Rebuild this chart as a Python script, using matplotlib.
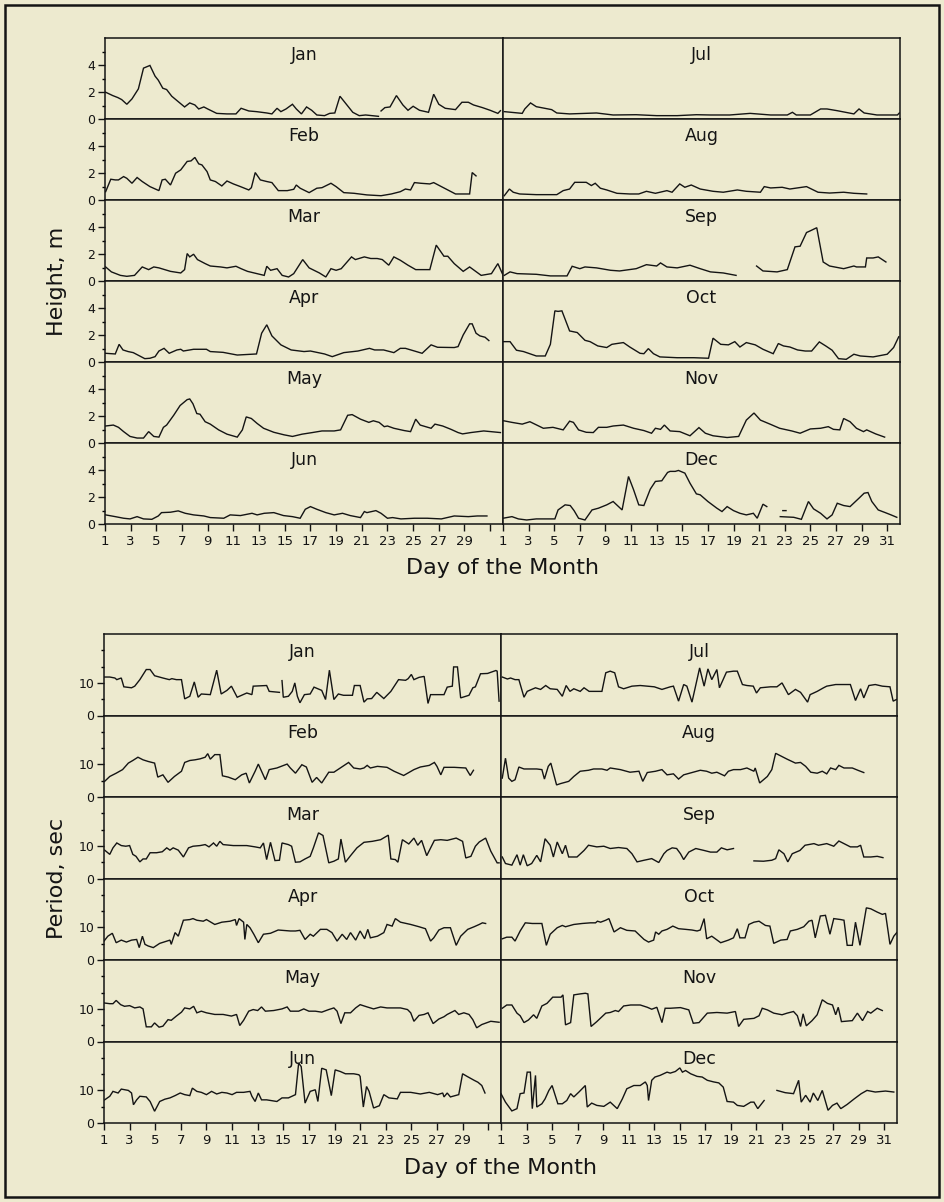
"""
plot.py
-------
Wave height and period, day by day for each month (Jan-Jun left, Jul-Dec right).
Values read off the scanned figure; gaps in the record are marked with None.
"""

import numpy as np
import matplotlib
matplotlib.use("Agg")
import matplotlib.pyplot as plt
from matplotlib.ticker import FixedLocator

W, H = 945, 1202
BG = "#EDEACF"
INK = "#141414"

LEFT_MONTHS = ["Jan", "Feb", "Mar", "Apr", "May", "Jun"]
RIGHT_MONTHS = ["Jul", "Aug", "Sep", "Oct", "Nov", "Dec"]

# ---- wave height, m  (day, value) ----
ht_jan = [(1.05, 2.0), (1.6, 1.75), (2.0, 1.6), (2.3, 1.45), (2.7, 1.1), (3.1, 1.5), (3.6, 2.25),
          (4.0, 3.8), (4.5, 4.0), (4.9, 3.2), (5.15, 2.9), (5.5, 2.3), (5.8, 2.2), (6.2, 1.7),
          (6.7, 1.3), (7.2, 0.9), (7.6, 1.2), (8.0, 1.05), (8.3, 0.75), (8.7, 0.9), (9.0, 0.75),
          (9.7, 0.42), (10.5, 0.38), (11.2, 0.38), (11.6, 0.8), (12.2, 0.6), (12.8, 0.55),
          (13.6, 0.45), (14.0, 0.38), (14.4, 0.8), (14.7, 0.55), (15.1, 0.75), (15.6, 1.1),
          (15.9, 0.75), (16.3, 0.38), (16.7, 0.9), (17.1, 0.65), (17.5, 0.3), (18.1, 0.25),
          (18.5, 0.42), (18.9, 0.45), (19.3, 1.7), (19.8, 1.1), (20.3, 0.5), (20.8, 0.25),
          (21.3, 0.3), (22.3, 0.2), None, (22.5, 0.6), (22.8, 0.85), (23.2, 0.9), (23.7, 1.75),
          (24.2, 1.05), (24.6, 0.65), (25.0, 0.95), (25.5, 0.65), (26.2, 0.5), (26.6, 1.85),
          (27.0, 1.1), (27.5, 0.8), (28.3, 0.7), (28.8, 1.25), (29.3, 1.25), (29.7, 1.05),
          (30.4, 0.85), (31.0, 0.65), (31.6, 0.42), (31.8, 0.62)]
ht_feb = [(1.05, 0.62), (1.45, 1.55), (1.8, 1.5), (2.05, 1.5), (2.45, 1.75), (2.7, 1.62),
          (3.1, 1.25), (3.5, 1.68), (3.9, 1.38), (4.5, 1.0), (5.2, 0.7), (5.45, 1.5), (5.7, 1.55),
          (6.1, 1.12), (6.5, 2.0), (6.9, 2.25), (7.4, 2.88), (7.7, 2.92), (8.0, 3.18), (8.3, 2.7),
          (8.55, 2.62), (8.95, 2.12), (9.2, 1.5), (9.6, 1.38), (10.1, 1.05), (10.5, 1.42),
          (11.0, 1.2), (11.55, 1.0), (12.2, 0.75), (12.4, 0.92), (12.7, 2.05), (13.1, 1.5),
          (13.6, 1.38), (14.0, 1.3), (14.5, 0.7), (15.2, 0.7), (15.7, 0.8), (15.9, 1.12),
          (16.2, 0.88), (16.9, 0.55), (17.5, 0.88), (17.9, 0.92), (18.6, 1.25), (19.0, 1.0),
          (19.6, 0.55), (20.4, 0.5), (21.4, 0.38), (22.5, 0.32), (23.3, 0.45), (24.0, 0.62),
          (24.4, 0.82), (24.8, 0.75), (25.1, 1.3), (25.6, 1.25), (26.3, 1.2), (26.6, 1.3),
          (27.2, 1.0), (27.8, 0.7), (28.3, 0.45), (29.4, 0.45), (29.6, 2.05), (29.9, 1.8)]
ht_mar = [(1.05, 1.05), (1.5, 0.68), (2.2, 0.42), (2.7, 0.35), (3.3, 0.42), (3.9, 1.05),
          (4.4, 0.85), (4.8, 1.05), (5.2, 0.98), (6.1, 0.72), (6.9, 0.6), (7.2, 0.85), (7.4, 2.05),
          (7.6, 1.8), (7.9, 2.0), (8.2, 1.6), (8.8, 1.3), (9.2, 1.12), (10.0, 1.05), (10.5, 0.98),
          (11.2, 1.1), (11.6, 0.92), (12.1, 0.72), (13.4, 0.42), (13.6, 1.1), (13.9, 0.8),
          (14.4, 0.92), (14.8, 0.42), (15.3, 0.3), (15.7, 0.55), (16.4, 1.6), (16.9, 0.98),
          (17.7, 0.6), (18.2, 0.3), (18.6, 0.92), (19.0, 0.8), (19.4, 0.92), (20.2, 1.8),
          (20.5, 1.6), (21.2, 1.8), (21.7, 1.68), (22.2, 1.68), (22.6, 1.6), (23.1, 1.18),
          (23.5, 1.8), (24.0, 1.55), (24.6, 1.18), (25.2, 0.85), (26.3, 0.85), (26.8, 2.68),
          (27.4, 1.85), (27.7, 1.85), (28.2, 1.3), (28.9, 0.72), (29.4, 1.05), (30.3, 0.42),
          (31.1, 0.55), (31.6, 1.3), (31.95, 0.55)]
ht_apr = [(1.05, 0.65), (1.8, 0.6), (2.1, 1.32), (2.4, 0.9), (2.8, 0.78), (3.2, 0.7), (3.7, 0.45),
          (4.1, 0.25), (4.5, 0.28), (4.9, 0.4), (5.2, 0.82), (5.6, 1.02), (6.0, 0.65), (6.6, 0.9),
          (6.9, 0.95), (7.1, 0.82), (7.6, 0.9), (7.9, 0.95), (8.9, 0.95), (9.2, 0.78), (10.2, 0.72),
          (11.3, 0.52), (12.8, 0.6), (13.2, 2.15), (13.6, 2.78), (14.0, 1.95), (14.7, 1.28),
          (15.5, 0.9), (16.5, 0.78), (17.0, 0.82), (18.1, 0.6), (18.7, 0.4), (19.6, 0.7),
          (20.7, 0.82), (21.6, 1.02), (22.0, 0.9), (22.7, 0.9), (23.5, 0.7), (24.0, 1.02),
          (24.4, 1.02), (25.0, 0.85), (25.7, 0.65), (26.4, 1.28), (26.9, 1.1), (28.2, 1.08),
          (28.5, 1.15), (28.9, 2.02), (29.4, 2.85), (29.6, 2.85), (29.9, 2.15), (30.2, 1.95),
          (30.6, 1.85), (30.9, 1.6)]
ht_may = [(1.05, 1.27), (1.65, 1.34), (2.05, 1.17), (2.45, 0.85), (2.95, 0.49), (3.5, 0.37),
          (4.0, 0.37), (4.4, 0.85), (4.8, 0.49), (5.2, 0.44), (5.55, 1.17), (5.8, 1.34),
          (6.35, 2.07), (6.85, 2.8), (7.4, 3.24), (7.6, 3.29), (7.85, 2.93), (8.15, 2.2),
          (8.4, 2.15), (8.8, 1.59), (9.2, 1.41), (9.85, 0.98), (10.5, 0.66), (11.3, 0.44),
          (11.7, 0.98), (12.0, 1.95), (12.4, 1.83), (12.85, 1.46), (13.35, 1.1), (14.15, 0.8),
          (14.95, 0.61), (15.6, 0.49), (16.35, 0.66), (17.15, 0.78), (17.9, 0.9), (18.85, 0.9),
          (19.35, 0.98), (19.9, 2.07), (20.25, 2.12), (20.9, 1.78), (21.55, 1.54), (21.9, 1.66),
          (22.35, 1.54), (22.75, 1.22), (23.0, 1.27), (23.5, 1.1), (24.3, 0.93), (24.8, 0.85),
          (25.2, 1.78), (25.55, 1.34), (26.4, 1.1), (26.7, 1.41), (27.3, 1.27), (27.95, 1.02),
          (28.5, 0.78), (28.85, 0.68), (29.5, 0.78), (30.5, 0.9), (31.8, 0.78)]
ht_jun = [(1.05, 0.68), (1.8, 0.55), (2.45, 0.43), (2.95, 0.38), (3.5, 0.55), (4.0, 0.38),
          (4.65, 0.35), (5.15, 0.6), (5.4, 0.85), (6.1, 0.88), (6.7, 0.98), (7.25, 0.8),
          (7.9, 0.68), (8.7, 0.6), (9.2, 0.48), (10.25, 0.43), (10.75, 0.68), (11.55, 0.63),
          (12.45, 0.8), (12.85, 0.68), (13.4, 0.8), (14.15, 0.85), (14.9, 0.63), (15.6, 0.55),
          (16.2, 0.43), (16.6, 1.1), (17.0, 1.3), (17.5, 1.1), (18.2, 0.85), (18.85, 0.68),
          (19.5, 0.8), (20.1, 0.63), (20.9, 0.48), (21.2, 0.93), (21.4, 0.85), (22.1, 1.0),
          (22.5, 0.8), (23.0, 0.43), (23.4, 0.48), (24.05, 0.38), (25.1, 0.43), (26.1, 0.43),
          (27.2, 0.38), (28.2, 0.6), (29.3, 0.55), (30.0, 0.6), (30.75, 0.6)]
ht_jul = [(1.1, 0.55), (2.5, 0.42), (2.7, 0.75), (3.15, 1.2), (3.6, 0.92), (4.15, 0.82),
          (4.8, 0.7), (5.2, 0.45), (6.2, 0.38), (8.3, 0.45), (9.6, 0.3), (11.4, 0.32), (13.0, 0.25),
          (14.6, 0.25), (16.1, 0.32), (17.2, 0.3), (18.7, 0.3), (20.3, 0.42), (21.9, 0.3),
          (23.2, 0.3), (23.6, 0.5), (23.9, 0.3), (25.0, 0.3), (25.8, 0.75), (26.3, 0.75),
          (27.1, 0.62), (28.4, 0.38), (28.8, 0.75), (29.2, 0.45), (30.2, 0.3), (31.8, 0.3),
          (31.95, 0.45)]
ht_aug = [(1.1, 0.32), (1.5, 0.82), (1.8, 0.58), (2.3, 0.45), (3.6, 0.4), (5.2, 0.4), (5.7, 0.7),
          (6.2, 0.82), (6.6, 1.32), (7.5, 1.32), (7.9, 1.08), (8.2, 1.25), (8.6, 0.88), (9.1, 0.75),
          (9.9, 0.5), (10.9, 0.45), (11.6, 0.45), (12.2, 0.65), (12.9, 0.5), (13.8, 0.7),
          (14.2, 0.58), (14.8, 1.2), (15.2, 0.95), (15.7, 1.12), (16.4, 0.82), (17.4, 0.65),
          (18.2, 0.58), (19.3, 0.75), (20.0, 0.65), (21.1, 0.58), (21.4, 1.0), (21.9, 0.9),
          (22.8, 0.95), (23.4, 0.82), (24.7, 1.0), (25.6, 0.58), (26.5, 0.52), (27.6, 0.58),
          (28.4, 0.5), (29.4, 0.45)]
ht_sep = [(1.1, 0.42), (1.55, 0.68), (2.1, 0.55), (3.6, 0.5), (4.7, 0.38), (6.0, 0.38), (6.4, 1.1),
          (7.0, 0.92), (7.4, 1.05), (8.3, 0.98), (9.4, 0.8), (10.1, 0.75), (11.4, 0.92),
          (12.2, 1.22), (13.0, 1.12), (13.3, 1.35), (13.8, 1.05), (14.6, 0.98), (15.6, 1.18),
          (16.4, 0.92), (17.2, 0.68), (18.2, 0.6), (19.2, 0.42), None, (20.8, 1.12), (21.3, 0.75),
          (22.4, 0.68), (23.2, 0.85), (23.8, 2.55), (24.2, 2.6), (24.7, 3.62), (25.0, 3.75),
          (25.5, 3.98), (26.0, 1.42), (26.5, 1.12), (27.6, 0.92), (28.4, 1.12), (28.6, 1.05),
          (29.3, 1.05), (29.4, 1.72), (29.9, 1.72), (30.3, 1.8), (30.9, 1.42)]
ht_oct = [(1.05, 1.52), (1.55, 1.52), (2.05, 0.88), (2.6, 0.78), (3.6, 0.45), (4.3, 0.45),
          (4.7, 1.32), (5.05, 3.82), (5.3, 3.78), (5.6, 3.82), (6.2, 2.32), (6.8, 2.2), (7.4, 1.62),
          (7.8, 1.52), (8.4, 1.2), (9.1, 1.08), (9.5, 1.32), (9.9, 1.38), (10.4, 1.45), (10.9, 1.12),
          (11.7, 0.65), (12.0, 0.62), (12.35, 1.0), (12.75, 0.62), (13.25, 0.38), (14.6, 0.32),
          (15.9, 0.32), (17.05, 0.28), (17.4, 1.78), (18.0, 1.32), (18.6, 1.28), (19.1, 1.52),
          (19.5, 1.12), (20.0, 1.45), (20.7, 1.28), (21.3, 0.95), (22.1, 0.62), (22.5, 1.38),
          (22.9, 1.2), (23.4, 1.12), (24.0, 0.9), (24.6, 0.82), (25.1, 0.82), (25.7, 1.5),
          (26.2, 1.2), (26.7, 0.88), (27.2, 0.25), (27.8, 0.2), (28.4, 0.58), (28.9, 0.45),
          (29.9, 0.38), (31.0, 0.58), (31.5, 1.08), (31.9, 1.88)]
ht_nov = [(1.05, 1.66), (1.7, 1.54), (2.5, 1.41), (3.1, 1.59), (4.15, 1.1), (4.9, 1.17),
          (5.7, 0.98), (6.2, 1.63), (6.5, 1.54), (6.9, 0.98), (7.5, 0.8), (8.05, 0.78),
          (8.45, 1.17), (9.1, 1.17), (9.6, 1.27), (10.4, 1.34), (11.2, 1.1), (12.0, 0.93),
          (12.6, 0.73), (12.9, 1.1), (13.3, 1.02), (13.6, 1.34), (14.05, 0.9), (14.8, 0.85),
          (15.6, 0.54), (16.3, 1.15), (16.8, 0.73), (17.4, 0.54), (18.5, 0.41), (19.4, 0.49),
          (20.0, 1.71), (20.6, 2.24), (21.1, 1.71), (21.9, 1.39), (22.6, 1.1), (23.55, 0.9),
          (24.2, 0.73), (25.0, 1.05), (25.8, 1.1), (26.4, 1.22), (26.8, 1.02), (27.3, 0.98),
          (27.6, 1.83), (28.1, 1.59), (28.6, 1.1), (29.15, 0.85), (29.4, 0.98), (30.1, 0.68),
          (30.8, 0.44)]
ht_dec = [(1.0, 0.43), (1.7, 0.55), (2.2, 0.38), (2.85, 0.3), (3.6, 0.38), (5.05, 0.38),
          (5.3, 1.05), (5.85, 1.43), (6.25, 1.38), (6.55, 1.0), (6.9, 0.43), (7.4, 0.3),
          (7.95, 1.05), (8.45, 1.18), (9.1, 1.43), (9.6, 1.68), (10.3, 1.05), (10.8, 3.55),
          (11.2, 2.55), (11.6, 1.43), (12.0, 1.38), (12.5, 2.6), (12.9, 3.18), (13.4, 3.23),
          (13.85, 3.85), (14.05, 3.93), (14.45, 3.93), (14.7, 4.0), (15.2, 3.8), (15.6, 3.05),
          (16.1, 2.25), (16.4, 2.18), (17.0, 1.68), (17.7, 1.18), (18.1, 0.93), (18.5, 1.3),
          (19.0, 1.0), (19.5, 0.8), (20.0, 0.68), (20.55, 0.8), (20.85, 0.43), (21.3, 1.48),
          (21.6, 1.3), None, (22.85, 1.0), (23.1, 1.0), None, (22.65, 0.55), (23.7, 0.5),
          (24.3, 0.35), (24.85, 1.68), (25.25, 1.13), (25.8, 0.8), (26.3, 0.38), (26.7, 0.68),
          (27.1, 1.55), (27.6, 1.38), (28.1, 1.3), (28.8, 1.93), (29.2, 2.3), (29.5, 2.35),
          (29.8, 1.68), (30.3, 1.05), (30.85, 0.85), (31.3, 0.68), (31.75, 0.5)]

# ---- wave period, sec  (day, value) ----
pd_jan = [(1.05, 11.8), (1.45, 11.8), (1.85, 11.5), (2.0, 11.0), (2.2, 11.3), (2.35, 11.5),
          (2.55, 8.8), (3.15, 8.5), (3.4, 9.0), (3.8, 11.0), (4.3, 14.1), (4.6, 14.1), (4.95, 12.2),
          (5.6, 11.5), (6.1, 11.0), (6.3, 11.3), (6.65, 11.0), (7.05, 11.0), (7.3, 5.1), (7.7, 5.9),
          (8.05, 10.3), (8.35, 5.6), (8.6, 6.6), (9.3, 6.4), (9.8, 13.9), (10.15, 6.6), (10.6, 7.7),
          (10.95, 9.0), (11.4, 5.6), (12.15, 6.9), (12.55, 6.4), (12.65, 9.0), (13.7, 9.2),
          (13.9, 7.4), (14.7, 7.1), None, (14.9, 10.7), (15.0, 5.6), (15.4, 5.9), (15.7, 7.4),
          (15.9, 10.0), (16.1, 5.9), (16.3, 3.9), (16.65, 6.4), (17.1, 6.6), (17.4, 8.7),
          (18.0, 7.7), (18.3, 4.9), (18.6, 13.9), (18.95, 4.9), (19.3, 6.6), (19.7, 6.2),
          (20.4, 6.2), (20.55, 9.2), (21.0, 9.2), (21.3, 4.1), (21.55, 5.1), (21.9, 5.2),
          (22.3, 7.1), (22.85, 5.2), (23.4, 7.4), (24.0, 11.0), (24.55, 10.8), (24.75, 11.3),
          (25.0, 12.6), (25.2, 11.0), (25.6, 11.7), (26.0, 12.0), (26.3, 3.7), (26.5, 6.4),
          (27.55, 6.4), (27.8, 8.7), (28.2, 9.0), (28.3, 14.9), (28.6, 14.9), (28.85, 5.4),
          (29.5, 6.2), (29.8, 8.5), (30.0, 8.8), (30.4, 12.8), (30.95, 12.9), (31.6, 13.8),
          (31.7, 13.6), (31.85, 4.4)]
pd_feb = [(1.05, 4.8), (1.45, 6.3), (1.95, 7.3), (2.45, 8.4), (2.9, 10.4), (3.25, 11.2),
          (3.65, 12.2), (4.05, 11.4), (4.45, 10.9), (4.95, 10.4), (5.2, 6.1), (5.6, 6.8),
          (6.0, 4.5), (6.5, 6.3), (7.05, 7.9), (7.3, 10.6), (7.7, 11.2), (8.1, 11.4), (8.5, 11.7),
          (8.9, 12.2), (9.1, 13.3), (9.3, 11.6), (9.65, 13.0), (10.05, 13.0), (10.25, 6.5),
          (10.7, 6.1), (11.25, 5.3), (11.75, 6.8), (12.1, 7.3), (12.35, 4.3), (12.8, 7.9),
          (13.05, 10.1), (13.6, 5.3), (13.9, 8.4), (14.5, 8.9), (15.3, 10.1), (15.55, 8.9),
          (15.95, 7.3), (16.45, 9.9), (16.8, 9.2), (17.25, 4.5), (17.6, 6.0), (18.0, 4.3),
          (18.55, 7.6), (18.95, 7.6), (19.45, 8.9), (20.1, 10.6), (20.5, 8.9), (21.0, 8.6),
          (21.3, 8.9), (21.55, 9.7), (21.8, 8.9), (22.35, 9.4), (23.1, 9.1), (23.65, 7.9),
          (24.4, 6.6), (25.2, 8.4), (25.7, 9.2), (26.4, 9.7), (26.8, 10.6), (27.0, 9.4),
          (27.3, 6.8), (27.55, 9.1), (28.35, 9.1), (29.25, 8.9), (29.4, 7.9), (29.6, 6.6),
          (29.85, 8.2)]
pd_mar = [(1.05, 8.7), (1.45, 7.4), (1.7, 9.4), (2.0, 10.9), (2.35, 10.1), (2.7, 9.9), (3.0, 10.1),
          (3.25, 7.4), (3.5, 6.8), (3.8, 5.1), (4.05, 6.0), (4.3, 6.0), (4.6, 7.9), (5.1, 7.9),
          (5.55, 8.2), (5.9, 9.4), (6.15, 8.7), (6.4, 9.4), (6.8, 8.7), (7.2, 6.6), (7.6, 9.4),
          (7.95, 9.9), (8.5, 10.1), (8.9, 10.4), (9.2, 9.7), (9.55, 10.9), (9.8, 9.9),
          (10.05, 11.4), (10.3, 10.4), (11.1, 10.1), (12.15, 10.1), (12.8, 9.7), (13.2, 9.4),
          (13.45, 10.9), (13.7, 5.8), (14.0, 11.1), (14.35, 5.5), (14.7, 5.6), (14.9, 10.9),
          (15.4, 10.4), (15.65, 9.9), (15.95, 5.0), (16.3, 5.1), (16.7, 6.0), (17.1, 6.8),
          (17.35, 9.4), (17.75, 14.0), (18.1, 13.2), (18.55, 4.8), (18.95, 5.3), (19.3, 6.0),
          (19.5, 12.1), (19.85, 5.0), (20.25, 7.0), (20.75, 9.4), (21.3, 11.1), (21.95, 11.4),
          (22.6, 11.9), (23.2, 13.3), (23.4, 6.0), (23.75, 5.8), (23.95, 5.0), (24.3, 11.9),
          (24.8, 10.6), (25.2, 12.4), (25.5, 10.2), (25.8, 11.7), (26.2, 7.0), (26.8, 11.7),
          (27.3, 11.9), (27.8, 11.7), (28.5, 12.4), (29.0, 11.4), (29.25, 6.3), (29.65, 6.8),
          (30.0, 9.9), (30.3, 11.2), (30.8, 12.4), (31.2, 8.4), (31.7, 4.8), (31.85, 4.8)]
pd_apr = [(1.0, 5.8), (1.3, 7.3), (1.65, 8.2), (1.95, 5.3), (2.35, 6.1), (2.75, 5.5), (3.15, 6.1),
          (3.55, 6.3), (3.75, 3.8), (4.0, 7.3), (4.2, 4.8), (4.45, 4.3), (4.85, 3.8), (5.35, 5.1),
          (6.15, 6.1), (6.25, 4.8), (6.55, 8.4), (6.8, 7.3), (7.2, 12.2), (7.7, 12.4), (7.95, 12.7),
          (8.25, 12.2), (8.75, 11.9), (9.0, 12.4), (9.65, 10.9), (10.2, 11.6), (10.85, 11.9),
          (11.25, 12.4), (11.35, 10.6), (11.55, 12.7), (11.9, 11.6), (12.0, 6.3), (12.15, 10.9),
          (12.4, 9.9), (12.7, 7.9), (13.05, 5.3), (13.45, 7.9), (14.0, 8.2), (14.6, 9.2),
          (15.55, 8.9), (15.95, 8.9), (16.3, 9.1), (16.7, 6.3), (17.1, 7.9), (17.35, 7.3),
          (17.9, 9.4), (18.4, 9.4), (18.8, 8.4), (19.2, 5.8), (19.6, 7.9), (19.95, 6.3),
          (20.25, 8.4), (20.65, 6.1), (21.0, 8.9), (21.35, 6.5), (21.6, 9.4), (21.8, 6.8),
          (22.35, 7.3), (22.85, 8.4), (23.1, 10.9), (23.5, 10.4), (23.75, 12.7), (24.15, 11.6),
          (24.95, 10.9), (25.6, 10.2), (26.1, 9.6), (26.5, 5.8), (26.75, 6.8), (27.15, 9.2),
          (27.55, 9.9), (28.05, 9.9), (28.5, 4.5), (28.85, 7.3), (29.4, 9.4), (29.9, 10.2),
          (30.3, 10.9), (30.55, 11.4), (30.8, 11.2)]
pd_may = [(1.05, 11.8), (1.45, 11.6), (1.7, 11.6), (1.95, 12.6), (2.3, 11.3), (2.6, 10.8),
          (3.0, 11.0), (3.4, 10.3), (3.8, 10.6), (4.05, 10.0), (4.3, 4.5), (4.7, 4.5), (4.95, 5.7),
          (5.3, 4.4), (5.6, 4.7), (6.0, 6.7), (6.25, 6.5), (6.65, 7.8), (7.05, 9.0), (7.3, 10.3),
          (7.7, 10.0), (8.0, 10.8), (8.25, 8.8), (8.6, 9.3), (9.0, 8.8), (9.65, 8.3), (10.3, 8.3),
          (10.95, 7.8), (11.35, 8.3), (11.6, 4.9), (11.9, 6.5), (12.3, 9.3), (12.65, 9.8),
          (13.0, 9.5), (13.3, 10.6), (13.6, 9.3), (14.25, 9.5), (14.9, 10.0), (15.3, 10.6),
          (15.55, 9.3), (16.2, 9.3), (16.6, 10.0), (17.0, 9.3), (17.5, 9.3), (18.0, 9.0),
          (18.55, 9.8), (18.95, 10.3), (19.2, 9.3), (19.5, 5.5), (19.8, 8.8), (20.25, 8.8),
          (20.65, 10.3), (21.0, 11.3), (21.55, 10.6), (22.05, 10.0), (22.6, 10.6), (23.1, 10.3),
          (23.65, 10.3), (24.15, 10.3), (24.7, 9.8), (24.95, 8.8), (25.2, 6.2), (25.6, 8.0),
          (26.0, 8.3), (26.3, 8.8), (26.7, 5.5), (27.15, 6.9), (27.55, 7.6), (27.8, 8.3),
          (28.4, 9.5), (28.7, 8.3), (29.1, 8.8), (29.5, 8.3), (29.8, 6.7), (30.1, 4.2),
          (30.5, 5.2), (31.2, 6.2), (31.85, 5.9)]
pd_jun = [(1.05, 7.1), (1.45, 8.2), (1.7, 9.7), (2.1, 9.2), (2.35, 10.4), (2.9, 10.0), (3.15, 9.2),
          (3.3, 5.6), (3.55, 7.1), (3.8, 8.2), (4.3, 8.0), (4.6, 6.6), (4.95, 3.6), (5.35, 6.6),
          (5.75, 7.3), (6.15, 7.7), (6.55, 8.4), (6.95, 9.2), (7.3, 8.7), (7.7, 8.4), (7.9, 10.7),
          (8.25, 9.7), (8.6, 9.4), (9.0, 8.7), (9.4, 9.7), (9.8, 8.9), (10.2, 9.4), (10.6, 9.2),
          (11.0, 8.7), (11.35, 9.4), (11.9, 9.4), (12.4, 9.7), (12.55, 8.2), (12.8, 6.6),
          (13.05, 9.2), (13.3, 7.1), (13.7, 7.1), (14.5, 6.6), (14.9, 7.7), (15.4, 7.7),
          (15.95, 8.7), (16.2, 18.4), (16.4, 17.3), (16.7, 6.1), (17.1, 9.7), (17.5, 10.2),
          (17.7, 6.6), (18.0, 16.8), (18.35, 16.3), (18.75, 8.4), (19.05, 16.3), (19.45, 15.8),
          (19.85, 15.1), (20.5, 15.1), (20.9, 14.8), (21.0, 14.3), (21.25, 4.9), (21.5, 11.2),
          (21.7, 9.7), (22.05, 4.6), (22.5, 5.3), (22.85, 8.7), (23.25, 7.7), (23.9, 7.4),
          (24.15, 9.4), (24.95, 9.4), (25.7, 8.9), (26.4, 9.4), (27.05, 8.7), (27.45, 9.2),
          (27.55, 8.0), (27.8, 9.2), (28.05, 8.0), (28.7, 8.7), (29.0, 15.1), (29.35, 14.3),
          (29.9, 13.1), (30.2, 12.5), (30.5, 11.5), (30.75, 9.2)]
pd_jul = [(1.1, 11.8), (1.5, 11.2), (1.75, 11.5), (2.1, 11.0), (2.4, 11.0), (2.8, 5.6), (3.05, 7.4),
          (3.4, 8.0), (3.7, 8.5), (4.1, 8.0), (4.5, 9.2), (4.85, 8.2), (5.4, 8.0), (5.8, 5.9),
          (6.1, 9.2), (6.4, 7.4), (6.7, 8.2), (7.2, 7.4), (7.5, 8.5), (7.9, 7.4), (8.25, 7.4),
          (8.9, 7.4), (9.2, 13.1), (9.55, 13.6), (9.9, 13.1), (10.2, 8.8), (10.6, 8.2),
          (11.25, 9.0), (11.9, 9.2), (13.0, 8.8), (13.6, 8.0), (14.25, 8.8), (14.5, 9.0),
          (14.9, 4.4), (15.3, 9.5), (15.55, 9.0), (15.95, 4.1), (16.55, 14.6), (16.9, 9.0),
          (17.2, 14.3), (17.5, 11.0), (17.9, 14.1), (18.1, 8.5), (18.65, 13.3), (19.2, 13.6),
          (19.5, 13.6), (19.9, 9.5), (20.25, 9.2), (20.75, 9.0), (21.0, 6.9), (21.3, 8.5),
          (22.1, 8.8), (22.6, 8.8), (23.0, 10.0), (23.5, 6.4), (24.05, 8.0), (24.45, 7.1),
          (25.0, 4.1), (25.2, 6.4), (25.75, 7.4), (26.25, 8.5), (26.5, 9.0), (27.2, 9.5),
          (28.35, 9.5), (28.75, 4.6), (29.15, 8.2), (29.4, 5.4), (29.8, 9.2), (30.3, 9.5),
          (30.85, 9.0), (31.45, 8.8), (31.7, 4.4), (31.95, 4.9)]
pd_aug = [(1.1, 5.8), (1.35, 11.9), (1.6, 5.8), (1.85, 4.8), (2.1, 5.3), (2.4, 9.2), (2.8, 8.6),
          (3.8, 8.6), (4.2, 8.4), (4.4, 5.5), (4.7, 9.4), (4.9, 10.4), (5.35, 3.7), (5.65, 4.1),
          (6.3, 4.8), (6.7, 6.3), (7.2, 7.9), (7.85, 8.2), (8.25, 8.6), (8.9, 8.6), (9.3, 8.2),
          (9.55, 8.9), (10.35, 8.4), (11.1, 7.6), (11.8, 7.9), (12.1, 4.8), (12.45, 7.5),
          (13.1, 7.9), (13.6, 8.4), (14.0, 6.8), (14.5, 7.1), (14.9, 5.5), (15.3, 6.8),
          (15.95, 7.5), (16.6, 8.2), (17.1, 7.9), (17.5, 7.3), (17.9, 7.6), (18.5, 6.5),
          (18.8, 7.9), (19.2, 8.4), (19.75, 8.4), (20.25, 8.9), (20.8, 7.9), (20.9, 8.9),
          (21.25, 4.3), (21.85, 6.3), (22.2, 8.4), (22.5, 13.4), (22.9, 12.6), (23.4, 11.6),
          (24.05, 10.4), (24.45, 10.6), (24.85, 9.4), (25.25, 7.6), (25.75, 7.3), (26.15, 7.9),
          (26.5, 7.1), (26.8, 8.9), (27.2, 8.4), (27.45, 9.7), (27.85, 8.9), (28.5, 8.9),
          (29.0, 8.1), (29.4, 7.5)]
pd_sep = [(1.1, 6.6), (1.35, 4.6), (1.85, 4.1), (2.25, 7.3), (2.5, 4.1), (2.75, 7.3), (3.05, 3.9),
          (3.4, 4.6), (3.8, 7.1), (4.1, 5.1), (4.45, 12.2), (4.85, 10.2), (5.1, 6.6), (5.4, 11.2),
          (5.8, 7.6), (6.05, 10.2), (6.3, 6.6), (6.95, 6.6), (7.5, 8.6), (7.85, 10.2), (8.5, 9.7),
          (9.05, 9.9), (9.55, 9.2), (10.2, 9.5), (10.85, 9.2), (11.25, 7.6), (11.65, 5.1),
          (12.2, 5.6), (12.8, 6.1), (13.35, 4.9), (13.75, 7.6), (14.0, 8.6), (14.4, 9.4),
          (14.75, 9.2), (15.05, 7.6), (15.3, 5.8), (15.7, 8.1), (16.25, 9.2), (16.9, 8.6),
          (17.4, 8.1), (17.9, 8.1), (18.25, 9.4), (18.7, 8.8), (19.2, 9.2), None, (20.8, 5.4),
          (21.55, 5.3), (22.2, 5.6), (22.5, 6.1), (22.75, 8.8), (23.15, 7.6), (23.45, 5.1),
          (23.8, 7.6), (24.4, 8.6), (24.8, 10.2), (25.5, 10.7), (25.85, 10.2), (26.5, 10.7),
          (27.05, 9.9), (27.45, 11.5), (27.85, 10.7), (28.35, 9.7), (28.9, 9.7), (29.15, 10.2),
          (29.4, 6.6), (29.95, 6.6), (30.45, 6.8), (30.9, 6.4)]
pd_oct = [(1.1, 6.5), (1.45, 7.0), (1.85, 7.0), (2.1, 5.8), (2.5, 8.9), (2.9, 11.4), (3.45, 11.2),
          (4.2, 11.2), (4.55, 4.5), (4.85, 7.9), (5.4, 9.9), (5.8, 10.6), (6.05, 10.2), (6.7, 10.9),
          (7.35, 11.2), (8.0, 11.4), (8.4, 11.4), (8.55, 11.9), (8.8, 11.6), (9.2, 12.2),
          (9.45, 12.7), (9.85, 8.6), (10.35, 9.9), (10.85, 9.1), (11.5, 8.9), (12.2, 6.3),
          (12.55, 5.5), (12.95, 6.1), (13.1, 8.6), (13.35, 7.9), (13.6, 8.9), (14.0, 9.4),
          (14.45, 10.4), (14.9, 9.6), (15.45, 9.4), (15.95, 9.2), (16.35, 8.9), (16.6, 9.2),
          (16.9, 12.7), (17.1, 6.5), (17.5, 7.3), (18.2, 5.3), (18.8, 6.1), (19.2, 6.8),
          (19.5, 9.6), (19.7, 6.8), (20.1, 6.8), (20.4, 10.9), (20.8, 11.6), (21.2, 11.9),
          (21.7, 10.6), (22.05, 10.4), (22.35, 5.1), (22.9, 6.1), (23.4, 6.3), (23.65, 8.9),
          (24.2, 9.4), (24.7, 10.2), (25.1, 11.9), (25.35, 12.2), (25.6, 6.8), (26.0, 13.5),
          (26.4, 13.7), (26.75, 7.9), (27.05, 12.7), (27.6, 12.4), (27.85, 12.2), (28.1, 4.5),
          (28.5, 4.5), (28.75, 11.6), (29.1, 4.5), (29.6, 16.0), (29.95, 15.7), (30.45, 14.7),
          (30.85, 14.0), (31.1, 14.3), (31.45, 4.8), (31.75, 7.3), (31.98, 8.4)]
pd_nov = [(1.1, 10.2), (1.45, 11.2), (1.85, 11.2), (2.25, 8.7), (2.5, 7.9), (2.8, 5.8), (3.15, 6.6),
          (3.55, 8.2), (3.8, 7.1), (4.2, 10.9), (4.6, 11.7), (5.05, 13.6), (5.7, 13.6), (5.85, 14.3),
          (6.05, 5.1), (6.45, 5.8), (6.7, 14.3), (7.2, 14.6), (7.6, 14.8), (7.8, 14.6), (8.05, 4.6),
          (8.5, 6.1), (9.2, 8.7), (9.55, 8.9), (9.95, 9.5), (10.2, 9.2), (10.6, 10.9),
          (11.15, 11.2), (11.9, 11.2), (12.45, 10.5), (12.8, 9.9), (13.2, 10.5), (13.6, 5.8),
          (13.85, 10.2), (14.25, 10.2), (15.05, 10.4), (15.7, 9.7), (16.05, 5.6), (16.5, 5.8),
          (17.15, 8.7), (17.9, 8.9), (18.7, 8.7), (19.35, 9.2), (19.6, 4.6), (20.0, 6.8),
          (20.8, 7.1), (21.2, 7.9), (21.45, 10.2), (21.85, 9.7), (22.35, 8.7), (23.0, 8.2),
          (23.4, 8.7), (23.9, 9.2), (24.2, 7.9), (24.45, 4.6), (24.65, 8.5), (24.9, 4.8),
          (25.35, 6.4), (25.75, 8.2), (26.15, 12.8), (26.55, 11.7), (26.95, 11.2), (27.2, 8.2),
          (27.4, 10.5), (27.65, 6.1), (28.5, 6.4), (28.9, 8.7), (29.3, 6.4), (29.7, 9.2),
          (29.95, 8.7), (30.45, 10.2), (30.85, 9.5)]
pd_dec = [(1.0, 9.0), (1.35, 6.4), (1.85, 3.7), (2.25, 4.4), (2.5, 9.0), (2.8, 9.2), (3.05, 15.6),
          (3.3, 15.6), (3.45, 4.4), (3.7, 14.6), (3.8, 4.9), (4.2, 5.9), (4.45, 7.4), (4.75, 10.0),
          (5.0, 11.5), (5.45, 5.9), (5.8, 5.9), (6.15, 6.9), (6.45, 9.0), (6.7, 8.0), (7.1, 9.5),
          (7.35, 10.5), (7.6, 11.5), (7.75, 4.9), (8.1, 6.1), (8.5, 5.4), (9.05, 5.1), (9.55, 6.4),
          (10.1, 4.4), (10.5, 7.4), (10.85, 10.5), (11.4, 11.5), (11.9, 11.5), (12.3, 12.6),
          (12.45, 11.5), (12.55, 6.9), (12.8, 13.1), (13.05, 14.1), (13.45, 14.6), (14.0, 15.6),
          (14.25, 15.3), (14.65, 15.8), (15.0, 16.9), (15.2, 15.6), (15.45, 16.1), (15.85, 15.1),
          (16.35, 14.3), (16.75, 14.1), (17.15, 13.1), (17.65, 12.6), (18.05, 12.3), (18.4, 11.0),
          (18.7, 6.6), (19.2, 6.4), (19.5, 5.4), (20.0, 5.1), (20.55, 6.4), (20.8, 6.4),
          (21.1, 4.4), (21.6, 6.9), None, (22.6, 10.0), (23.25, 9.3), (23.9, 9.0), (24.3, 13.1),
          (24.5, 6.4), (24.85, 8.5), (25.2, 6.4), (25.45, 9.2), (25.8, 6.9), (26.15, 10.0),
          (26.6, 3.9), (26.95, 5.4), (27.3, 6.1), (27.6, 4.4), (28.1, 5.7), (28.65, 7.4),
          (29.2, 9.0), (29.65, 10.0), (30.3, 9.5), (31.1, 9.8), (31.75, 9.5)]

ODD_DAYS = list(range(1, 32, 2))


def px_rect(x0, y0, x1, y1):
    """Pixel box (top-left origin) -> figure fraction [l, b, w, h]."""
    return [x0 / W, 1 - y1 / H, (x1 - x0) / W, (y1 - y0) / H]


def split_xy(pairs):
    xs, ys = [], []
    for p in pairs:
        if p is None:
            xs.append(np.nan)
            ys.append(np.nan)
        else:
            xs.append(p[0])
            ys.append(p[1])
    return xs, ys


def draw_block(fig, top, row_h, x0, xmid, x1, left, right, ylim, ymajor, yminor,
               ylabel, ylabel_x, xlabel_y, title_off):
    for col, (months, xa, xb) in enumerate([(left, x0, xmid), (right, xmid, x1)]):
        for i, (name, data) in enumerate(months):
            ax = fig.add_axes(px_rect(xa, top + i * row_h, xb, top + (i + 1) * row_h))
            ax.set_facecolor(BG)
            xs, ys = split_xy(data)
            ax.plot(xs, ys, color=INK, lw=1.0, solid_joinstyle="miter")
            ax.set_xlim(1, 32)
            ax.set_ylim(*ylim)
            for sp in ax.spines.values():
                sp.set_linewidth(1.1)
                sp.set_color(INK)
            ax.text(0.5, 1 - title_off / row_h, name, transform=ax.transAxes,
                    ha="center", va="center", fontsize=12.5, color=INK)

            if col == 0:
                ax.yaxis.set_major_locator(FixedLocator(ymajor))
                ax.yaxis.set_minor_locator(FixedLocator(yminor))
                ax.tick_params(axis="y", which="major", direction="out", length=5,
                               width=1.0, labelsize=9, pad=2, colors=INK)
                ax.tick_params(axis="y", which="minor", direction="out", length=2.5,
                               width=1.0)
            else:
                ax.set_yticks([])

            if i == len(months) - 1:
                ax.set_xticks(ODD_DAYS)
                labels = [str(d) for d in ODD_DAYS]
                if col == 0:
                    labels[-1] = ""          # 31 would run into the 1 of the next panel
                ax.set_xticklabels(labels)
                ax.tick_params(axis="x", direction="out", length=5, width=1.0,
                               labelsize=9.5, pad=3, colors=INK)
            else:
                ax.set_xticks([])

    fig.text(ylabel_x / W, 1 - (top + 3 * row_h) / H, ylabel, rotation=90,
             ha="center", va="center", fontsize=16, color=INK)
    fig.text((x0 + x1) / 2 / W, 1 - xlabel_y / H, "Day of the Month",
             ha="center", va="center", fontsize=16, color=INK)


def main():
    fig = plt.figure(figsize=(W / 100, H / 100), dpi=100, facecolor=BG)

    height_left = list(zip(LEFT_MONTHS, [ht_jan, ht_feb, ht_mar, ht_apr, ht_may, ht_jun]))
    height_right = list(zip(RIGHT_MONTHS, [ht_jul, ht_aug, ht_sep, ht_oct, ht_nov, ht_dec]))
    period_left = list(zip(LEFT_MONTHS, [pd_jan, pd_feb, pd_mar, pd_apr, pd_may, pd_jun]))
    period_right = list(zip(RIGHT_MONTHS, [pd_jul, pd_aug, pd_sep, pd_oct, pd_nov, pd_dec]))

    draw_block(fig, 38, 81, 105, 503, 900, height_left, height_right,
               (0, 6.05), [0, 2, 4], [1, 3, 5], "Height, m", 57, 568, 17)
    draw_block(fig, 634, 81.5, 104, 501, 897, period_left, period_right,
               (0, 25), [0, 10], [5, 15, 20], "Period, sec", 57, 1168, 18)

    # outer frame round the whole page
    fig.add_artist(plt.Rectangle((5 / W, 1 - 1197 / H), 934 / W, 1192 / H, fill=False,
                                 lw=1.8, edgecolor=INK, transform=fig.transFigure))

    fig.savefig("out.png", dpi=100, facecolor=BG)
    plt.close(fig)


if __name__ == "__main__":
    main()
